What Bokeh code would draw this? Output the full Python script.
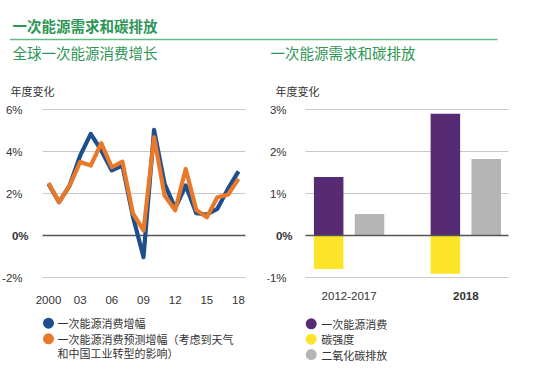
from bokeh.plotting import figure
from bokeh.models import Range1d, FixedTicker, Label, ColumnDataSource, Grid
from bokeh.layouts import column, row
from bokeh.embed import file_html
from bokeh.resources import INLINE
from bokeh.core.properties import value

# ---------------- data ----------------
years = list(range(2000, 2019))
growth_actual = [2.46, 1.59, 2.38, 3.8, 4.84, 4.05, 3.1, 3.33, 0.9, -1.03,
                 5.03, 2.46, 1.3, 2.38, 1.06, 1.0, 1.27, 2.22, 3.05]
growth_adjusted = [2.5, 1.59, 2.38, 3.5, 3.33, 4.4, 3.25, 3.52, 1.05, 0.24,
                   4.68, 1.9, 1.2, 3.17, 1.22, 0.87, 1.82, 1.94, 2.7]
year_ticks = [2000, 2003, 2006, 2009, 2012, 2015, 2018]
year_tick_labels = ["2000", "03", "06", "09", "12", "15", "18"]
left_y_ticks = [-2, 0, 2, 4, 6]
left_y_labels = ["-2%", "0%", "2%", "4%", "6%"]

categories = ["2012-2017", "2018"]
primary_energy = [1.39, 2.9]
carbon_intensity = [-0.8, -0.91]
co2_emissions = [0.51, 1.82]
right_y_ticks = [-1, 0, 1, 2, 3]
right_y_labels = ["-1%", "0%", "1%", "2%", "3%"]

title_text = "一次能源需求和碳排放"
left_title = "全球一次能源消费增长"
right_title = "一次能源需求和碳排放"
y_caption = "年度变化"
left_legend = ["一次能源消费增幅", "一次能源消费预测增幅（考虑到天气\n和中国工业转型的影响）"]
right_legend = ["一次能源消费", "碳强度", "二氧化碳排放"]

# ---------------- styles ----------------
CJK = "Noto Sans CJK SC"
NUM = "Liberation Sans"
GREEN = "#2e9656"
GREEN_LINE = "#62bb84"
BLUE = "#1f4e8d"
ORANGE = "#e8792b"
PURPLE = "#572a74"
YELLOW = "#fde428"
GREY = "#b5b5b5"
GRID = "#c8c8c8"
ZERO = "#555555"
TXT = "#333333"


def base_fig(width, height, xr, yr):
    p = figure(width=width, height=height, x_range=xr, y_range=yr,
               output_backend="svg", toolbar_location=None,
               min_border_left=0, min_border_right=0,
               min_border_top=0, min_border_bottom=0)
    p.outline_line_color = None
    p.background_fill_color = "white"
    p.border_fill_color = "white"
    return p


def chart_axes(p, data_x0, data_x1, data_y0, yticks, ylabels, ystand, xticks, xlabels):
    p.grid.visible = False
    for ax in (p.xaxis, p.yaxis):
        ax.axis_line_color = None
        ax.major_tick_line_color = None
        ax.minor_tick_line_color = None
        ax.major_label_text_font = NUM
        ax.major_label_text_font_size = "11.5px"
        ax.major_label_text_color = TXT
    p.yaxis.fixed_location = data_x0
    p.yaxis.ticker = FixedTicker(ticks=yticks)
    ov = {t: l for t, l in zip(yticks, ylabels)}
    ov[0] = ""
    p.yaxis.major_label_overrides = ov
    p.yaxis.major_label_standoff = ystand
    p.xaxis.fixed_location = data_y0
    p.xaxis.ticker = FixedTicker(ticks=xticks)
    p.xaxis.major_label_overrides = {t: l for t, l in zip(xticks, xlabels)}
    p.xaxis.major_label_standoff = 10
    grid = Grid(dimension=1, ticker=FixedTicker(ticks=[t for t in yticks if t != 0]),
                cross_bounds=(data_x0, data_x1), grid_line_color=GRID, grid_line_width=1.2)
    p.add_layout(grid)
    p.add_layout(Label(x=data_x0, y=0, x_offset=-ystand, text=ylabels[yticks.index(0)],
                       text_align="right", text_baseline="middle",
                       text_font=NUM, text_font_size="11.5px", text_font_style="bold",
                       text_color=TXT))


def zero_line(p, data_x0, data_x1, level):
    p.add_layout(Grid(dimension=1, ticker=FixedTicker(ticks=[0]), cross_bounds=(data_x0, data_x1),
                      grid_line_color=ZERO, grid_line_width=1.5, level=level))


# ---------------- title strip ----------------
top = base_fig(534, 62, Range1d(0, 534), Range1d(0, 62))
top.axis.visible = False
top.grid.visible = False
top.add_layout(Label(x=12, y=37, text=title_text, text_font=CJK, text_font_size="14.5px",
                     text_font_style="bold", text_color=GREEN, text_baseline="middle"))
top.segment(x0=[9.5], y0=[23], x1=[497], y1=[23], line_color=GREEN_LINE, line_width=1.6)
top.add_layout(Label(x=12, y=10, text=left_title, text_font=CJK, text_font_size="14.5px",
                     text_color=GREEN, text_baseline="middle"))
top.add_layout(Label(x=270, y=10, text=right_title, text_font=CJK, text_font_size="14.5px",
                     text_color=GREEN, text_baseline="middle"))

# ---------------- left line chart ----------------
W, H = 267, 250
ppx = 190 / 18.0
ppy = 21.0
lx_start = 2000 - 48 / ppx
lx0, lx1 = 2000 - 6 / ppx, 2000 + 197 / ppx
ly_lo = -2.1
lp = base_fig(W, H, Range1d(lx_start, lx_start + W / ppx), Range1d(-77 / ppy, 173 / ppy))
chart_axes(lp, lx0, lx1, ly_lo, left_y_ticks, left_y_labels, 14, year_ticks, year_tick_labels)
zero_line(lp, lx0, lx1, "underlay")
src = ColumnDataSource(dict(year=years, a=growth_actual, b=growth_adjusted))
lp.line("year", "a", source=src, line_color=BLUE, line_width=4.2, line_join="round")
lp.line("year", "b", source=src, line_color=ORANGE, line_width=4.2, line_join="round")
lp.add_layout(Label(x=lx0, x_offset=-32, y=6.9, text=y_caption, text_font=CJK,
                    text_font_size="11px", text_color=TXT, text_baseline="middle"))

# ---------------- right bar chart ----------------
gpx = 116.7
gppy = 42.0
rx_start = -81.6 / gpx
rx0, rx1 = (38 - 81.6) / gpx, (240.7 - 81.6) / gpx
rp = base_fig(W, H, Range1d(rx_start, rx_start + W / gpx), Range1d(-77 / gppy, 173 / gppy))
chart_axes(rp, rx0, rx1, -1.05, right_y_ticks, right_y_labels, 13, [], [])
rp.xaxis.visible = False
idx = list(range(len(categories)))
off = 0.175
bw = 0.253
rp.vbar(x=[i - off for i in idx], top=primary_energy, bottom=0, width=bw,
        fill_color=PURPLE, line_color=None)
rp.vbar(x=[i - off for i in idx], top=carbon_intensity, bottom=0, width=bw,
        fill_color=YELLOW, line_color=None)
rp.vbar(x=[i + off for i in idx], top=co2_emissions, bottom=0, width=bw,
        fill_color=GREY, line_color=None)
zero_line(rp, rx0, rx1, "overlay")
for i, c in enumerate(categories):
    rp.add_layout(Label(x=i, y=-1.45, text=c, text_align="center", text_baseline="middle",
                        text_font=NUM, text_font_size="11.5px", text_color=TXT,
                        text_font_style="bold" if i == len(categories) - 1 else "normal"))
rp.add_layout(Label(x=rx0, x_offset=-30, y=3.45, text=y_caption, text_font=CJK,
                    text_font_size="11px", text_color=TXT, text_baseline="middle"))


# ---------------- legends ----------------
def legend_fig(labels, colors, mx, tx, first, step, line_px=14.4):
    h = 63
    yr = Range1d((h - first) / step, -first / step)
    p = base_fig(267, h, Range1d(0, 267), yr)
    p.axis.visible = False
    p.grid.visible = False
    ys = list(range(len(labels)))
    p.scatter(x=[mx] * len(labels), y=ys, size=11, fill_color=colors, line_color=None)
    tx_y, tx_t = [], []
    for i, lab in enumerate(labels):
        for j, part in enumerate(lab.split("\n")):
            tx_y.append(i + j * line_px / step)
            tx_t.append(part)
    p.text(x=[tx] * len(tx_t), y=tx_y, text=tx_t, text_font=value(CJK),
           text_font_size="11px", text_color=TXT, text_baseline="middle")
    return p


leg_l = legend_fig(left_legend, [BLUE, ORANGE], 48, 57, 10.7, 15.6)
leg_r = legend_fig(right_legend, [PURPLE, YELLOW, GREY], 43.7, 53.7, 11.3, 15.4)

layout = column(top, row(lp, rp), row(leg_l, leg_r))
open("out.html", "w").write(file_html(layout, INLINE))
